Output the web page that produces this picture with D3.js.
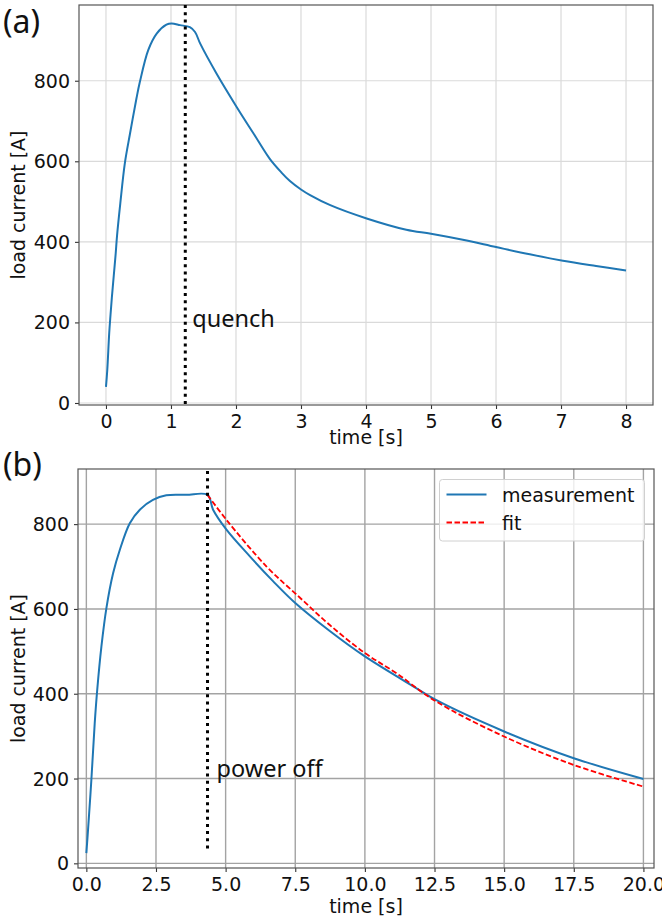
<!DOCTYPE html>
<html>
<head>
<meta charset="utf-8">
<script src="https://cdn.jsdelivr.net/npm/d3@7"></script>
<style>
  html, body { margin: 0; padding: 0; background: #fff; }
  svg { display: block; }
  text { font-family: "DejaVu Sans", sans-serif; fill: #111; }
</style>
</head>
<body>
<svg id="chart" width="662" height="922"></svg>
<script>
// ---------- data ----------
// panel (a): quench
const timeA = [0, 0.02, 0.05, 0.07, 0.09, 0.11, 0.13, 0.15, 0.17, 0.22, 0.29, 0.37, 0.47, 0.52, 0.65, 0.78, 0.93, 1.01, 1.14, 1.29, 1.37, 1.45, 1.70, 2.01, 2.27, 2.52, 2.70, 2.83, 3.0, 3.14, 3.45, 4.01, 4.62, 5.0, 5.49, 6.0, 6.52, 7.03, 7.54, 8.0];
const currentA = [40, 82, 174, 219, 261, 298, 335, 372, 415, 495, 595, 669, 757, 796, 876, 917, 939, 942, 938, 933, 921, 892, 818, 735, 669, 606, 572, 551, 530, 516, 491, 458, 430, 420, 405, 387, 369, 353, 340, 329];
const quenchTime = 1.22;

// panel (b): power off, measurement and fit
const timeB = [0, 0.06, 0.18, 0.30, 0.39, 0.54, 0.72, 0.96, 1.2, 1.56, 1.92, 2.39, 2.87, 3.59, 4.35, 4.55, 5.03, 5.87, 6.71, 7.5, 8.74, 10.0, 11.9, 12.5, 15.0, 17.5, 20.0];
const measB = [24, 79, 197, 330, 409, 511, 602, 684, 739, 802, 834, 857, 868, 869, 869, 834, 787, 724, 665, 614, 548, 488, 411, 387, 311, 248, 199];
const fitT = [4.35, 5.03, 6.47, 7.66, 8.74, 10.0, 11.14, 12.5, 15.0, 17.5, 20.0];
const fitV = [869, 810, 700, 627, 562, 496, 448, 384, 299, 232, 181];
const powerOffTime = 4.35;
const powerOffRange = [32, 925];

const ticksAx = [0, 1, 2, 3, 4, 5, 6, 7, 8];
const ticksAy = [0, 200, 400, 600, 800];
const ticksBx = [0, 2.5, 5, 7.5, 10, 12.5, 15, 17.5, 20];
const ticksBy = [0, 200, 400, 600, 800];
const legendLabels = ["measurement", "fit"];

// ---------- drawing ----------
const svg = d3.select("#chart");
const BLUE = "#1f77b4", RED = "#ff0000";

function panel(cfg) {
  const g = svg.append("g");
  const x = d3.scaleLinear().domain(cfg.xDomain).range([cfg.left, cfg.right]);
  const y = d3.scaleLinear().domain(cfg.yDomain).range([cfg.bottom, cfg.top]);
  const clipId = "clip" + cfg.id;
  svg.append("clipPath").attr("id", clipId).append("rect")
    .attr("x", cfg.left).attr("y", cfg.top)
    .attr("width", cfg.right - cfg.left).attr("height", cfg.bottom - cfg.top);

  // grid
  const grid = g.append("g").attr("clip-path", `url(#${clipId})`);
  grid.selectAll("line.gx").data(cfg.xTicks).join("line")
    .attr("x1", d => x(d)).attr("x2", d => x(d))
    .attr("y1", cfg.top).attr("y2", cfg.bottom)
    .attr("stroke", cfg.gridColor).attr("stroke-width", cfg.gridWidth);
  grid.selectAll("line.gy").data(cfg.yTicks).join("line")
    .attr("y1", d => y(d)).attr("y2", d => y(d))
    .attr("x1", cfg.left).attr("x2", cfg.right)
    .attr("stroke", cfg.gridColor).attr("stroke-width", cfg.gridWidth);

  // axes
  const xAxis = d3.axisBottom(x).tickValues(cfg.xTicks).tickSize(4).tickPadding(5)
    .tickFormat(cfg.xFormat);
  const yAxis = d3.axisLeft(y).tickValues(cfg.yTicks).tickSize(4).tickPadding(5)
    .tickFormat(d3.format("d"));
  const gx = g.append("g").attr("transform", `translate(0,${cfg.bottom})`).call(xAxis);
  const gy = g.append("g").attr("transform", `translate(${cfg.left},0)`).call(yAxis);
  [gx, gy].forEach(a => {
    a.select(".domain").remove();
    a.selectAll(".tick line").attr("stroke", "#333").attr("stroke-width", 1.1);
    a.selectAll(".tick text").style("font-family", "DejaVu Sans").style("font-size", "19px").attr("fill", "#111");
  });
  gy.selectAll(".tick text").attr("dy", "0.34em");
  gx.selectAll(".tick text").attr("dy", "0.72em");

  // spines
  g.append("rect").attr("x", cfg.left).attr("y", cfg.top)
    .attr("width", cfg.right - cfg.left).attr("height", cfg.bottom - cfg.top)
    .attr("fill", "none").attr("stroke", "#555").attr("stroke-width", 1.2);

  // labels
  g.append("text").attr("x", (cfg.left + cfg.right) / 2).attr("y", cfg.xLabelY)
    .attr("text-anchor", "middle").style("font-size", "19px").text("time [s]");
  g.append("text")
    .attr("transform", `translate(25,${(cfg.top + cfg.bottom) / 2}) rotate(-90)`)
    .attr("text-anchor", "middle").style("font-size", "19px").text("load current [A]");
  g.append("text").attr("x", 3).attr("y", cfg.tagY)
    .style("font-family", "'Noto Sans', 'Open Sans', sans-serif").style("font-size", "32px")
    .text(cfg.tag);

  return { g, x, y, clipId };
}

const smooth = d3.curveCatmullRom.alpha(0.5);

// ----- panel (a) -----
const A = panel({
  id: "a", left: 79, right: 653, top: 5, bottom: 405,
  xDomain: [-0.415, 8.415], yDomain: [-5, 988],
  xTicks: ticksAx, yTicks: ticksAy, xFormat: d3.format("d"),
  gridColor: "#dadada", gridWidth: 1.2, xLabelY: 444, tagY: 33, tag: "(a)"
});
const lineA = d3.line().x((d, i) => A.x(timeA[i])).y(d => A.y(d)).curve(smooth);
A.g.append("path").datum(currentA).attr("d", lineA)
  .attr("fill", "none").attr("stroke", BLUE).attr("stroke-width", 2)
  .attr("clip-path", `url(#${A.clipId})`);
A.g.append("line")
  .attr("x1", A.x(quenchTime)).attr("x2", A.x(quenchTime))
  .attr("y1", A.y.range()[1]).attr("y2", A.y.range()[0])
  .attr("stroke", "#000").attr("stroke-width", 3).attr("stroke-dasharray", "3,4.2");
A.g.append("text").attr("x", A.x(quenchTime) + 7).attr("y", A.y(208) + 8)
  .style("font-family", "'Noto Sans', sans-serif").style("font-size", "23.5px").text("quench");

// ----- panel (b) -----
const B = panel({
  id: "b", left: 78, right: 654, top: 469, bottom: 868,
  xDomain: [-0.3, 20.38], yDomain: [-11, 930],
  xTicks: ticksBx, yTicks: ticksBy, xFormat: d3.format(".1f"),
  gridColor: "#a3a3a3", gridWidth: 1.4, xLabelY: 913, tagY: 476, tag: "(b)"
});
const lineB = d3.line().x((d, i) => B.x(timeB[i])).y(d => B.y(d)).curve(smooth);
B.g.append("path").datum(measB).attr("d", lineB)
  .attr("fill", "none").attr("stroke", BLUE).attr("stroke-width", 2)
  .attr("clip-path", `url(#${B.clipId})`);
const lineFit = d3.line().x((d, i) => B.x(fitT[i])).y(d => B.y(d)).curve(smooth);
B.g.append("path").datum(fitV).attr("d", lineFit)
  .attr("fill", "none").attr("stroke", RED).attr("stroke-width", 1.8)
  .attr("stroke-dasharray", "5.5,2.5")
  .attr("clip-path", `url(#${B.clipId})`);
B.g.append("line")
  .attr("x1", B.x(powerOffTime)).attr("x2", B.x(powerOffTime))
  .attr("y1", B.y(powerOffRange[1])).attr("y2", B.y(powerOffRange[0]))
  .attr("stroke", "#000").attr("stroke-width", 3).attr("stroke-dasharray", "3,4.2");
B.g.append("text").attr("x", B.x(powerOffTime) + 9).attr("y", B.y(222) + 8)
  .style("font-family", "'Noto Sans', sans-serif").style("font-size", "23.5px").text("power off");

// legend
const leg = B.g.append("g");
leg.append("rect").attr("x", 439.5).attr("y", 479.5).attr("width", 205).attr("height", 61.5)
  .attr("rx", 3).attr("fill", "#fff").attr("fill-opacity", 0.8)
  .attr("stroke", "#d0d0d0").attr("stroke-width", 1);
const legStyles = [{ c: BLUE, dash: null, w: 2 }, { c: RED, dash: "5.5,2.5", w: 1.8 }];
legendLabels.forEach((lab, i) => {
  const yy = 494.5 + i * 28;
  leg.append("line").attr("x1", 446.5).attr("x2", 486.5).attr("y1", yy).attr("y2", yy)
    .attr("stroke", legStyles[i].c).attr("stroke-width", legStyles[i].w)
    .attr("stroke-dasharray", legStyles[i].dash);
  leg.append("text").attr("x", 502).attr("y", yy + 7).style("font-size", "19px").text(lab);
});
</script>
</body>
</html>
